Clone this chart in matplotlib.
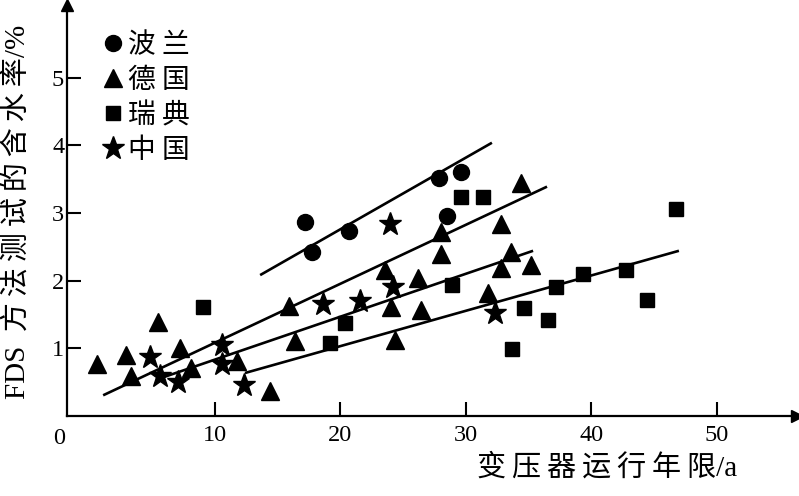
import matplotlib
matplotlib.use("Agg")
import matplotlib.pyplot as plt

# ---------------- data ----------------
poland_x = [17.20, 17.76, 20.71, 27.88, 29.63, 28.51]
poland_y = [2.87, 2.42, 2.73, 3.52, 3.61, 2.96]

germany_x = [0.63, 2.94, 3.34, 5.49, 7.24, 8.12, 11.78, 14.41, 15.93, 16.41,
             23.58, 26.21, 24.06, 26.45, 24.37, 28.04, 28.04, 34.41, 32.82,
             33.62, 32.82, 35.21, 31.78]
germany_y = [0.76, 0.90, 0.59, 1.39, 1.00, 0.70, 0.81, 0.36, 1.62, 1.10,
             2.16, 2.04, 1.61, 1.56, 1.12, 2.72, 2.39, 3.45, 2.84,
             2.42, 2.19, 2.23, 1.82]

sweden_x = [9.08, 19.19, 20.39, 28.91, 29.63, 31.39, 33.72, 34.68, 36.57,
            37.21, 39.36, 42.78, 44.46, 46.77]
sweden_y = [1.61, 1.08, 1.37, 1.93, 3.24, 3.24, 0.99, 1.59, 1.42,
            1.90, 2.10, 2.16, 1.71, 3.06]

china_x = [4.85, 5.65, 7.08, 10.59, 10.59, 12.34, 18.64, 21.59, 24.21, 23.98, 32.34]
china_y = [0.87, 0.59, 0.50, 1.05, 0.76, 0.45, 1.65, 1.70, 1.90, 2.84, 1.52]

# trend lines: (x_start, x_end), (y_start, y_end)
trend_x = [[13.63, 32.10], [1.12, 36.49], [5.33, 35.38], [12.42, 47.00]]
trend_y = [[2.08, 4.04], [0.30, 3.39], [0.53, 2.44], [0.63, 2.44]]

series_labels = ["波 兰", "德 国", "瑞 典", "中 国"]
x_ticks = [10, 20, 30, 40, 50]
y_ticks = [1, 2, 3, 4, 5]
TS = "\u2009"  # thin space used for the spaced-out typesetting of the titles
x_label = TS.join("变压器运行年限") + "/a"
y_label = "FDS  " + TS.join("方法测试的含水率") + "/%"

# ---------------- figure ----------------
plt.rcParams['font.family'] = ['Liberation Serif', 'Noto Sans CJK SC', 'DejaVu Sans']

W, H = 799, 496
fig = plt.figure(figsize=(W / 100, H / 100), dpi=100)
ax = fig.add_axes([67 / W, (H - 415.55) / H, (797 - 67) / W, (415.55 - 5) / H])

ax.set_xlim(-1.76, 56.41)
ax.set_ylim(0, 6.08)

for xs, ys in zip(trend_x, trend_y):
    ax.plot(xs, ys, color='black', lw=1.9, solid_capstyle='butt', zorder=2)

h1, = ax.plot(poland_x, poland_y, 'o', color='black', ms=11.5, ls='none', zorder=3)
h2, = ax.plot(germany_x, germany_y, '^', color='black', ms=13.5, ls='none', zorder=3)
h3, = ax.plot(sweden_x, sweden_y, 's', color='black', ms=10, ls='none', zorder=3)
h4, = ax.plot(china_x, china_y, '*', color='black', ms=17, ls='none', zorder=3)

leg = ax.legend([h1, h2, h3, h4], series_labels, loc='upper left',
                bbox_to_anchor=(0.048, 0.939), frameon=False,
                prop={'family': ['Noto Sans CJK SC', 'Liberation Serif'], 'size': 20},
                handlelength=0.8, handletextpad=0.15, labelspacing=0.18,
                borderpad=0.0, borderaxespad=0.0, markerscale=1.0)

for s in ['top', 'right']:
    ax.spines[s].set_visible(False)
for s in ['left', 'bottom']:
    ax.spines[s].set_linewidth(1.6)

ax.set_xticks(x_ticks)
ax.set_xticklabels([str(v) for v in x_ticks])
ax.set_yticks(y_ticks)
ax.set_yticklabels([str(v) for v in y_ticks])
ax.tick_params(direction='in', length=10, width=1.5, labelsize=17.5)
ax.tick_params(axis='x', pad=7)
ax.tick_params(axis='y', pad=2)

# origin label
ax.annotate('0', xy=(0, 0), xycoords='axes fraction', xytext=(-8, -23),
            textcoords='offset pixels', ha='center', va='center', fontsize=17.5)

# arrow heads
ax.plot(1, 0, marker='>', color='black', ms=9, transform=ax.transAxes, clip_on=False)
ax.plot(0, 1, marker='^', color='black', ms=9, transform=ax.transAxes, clip_on=False)

fig.text(607 / W, 1 - 468 / H, x_label, ha='center', va='center', fontsize=21)
fig.text(18 / W, 1 - 212 / H, y_label, ha='center', va='center', fontsize=21,
         rotation=90)

fig.savefig('out.png', dpi=100)
